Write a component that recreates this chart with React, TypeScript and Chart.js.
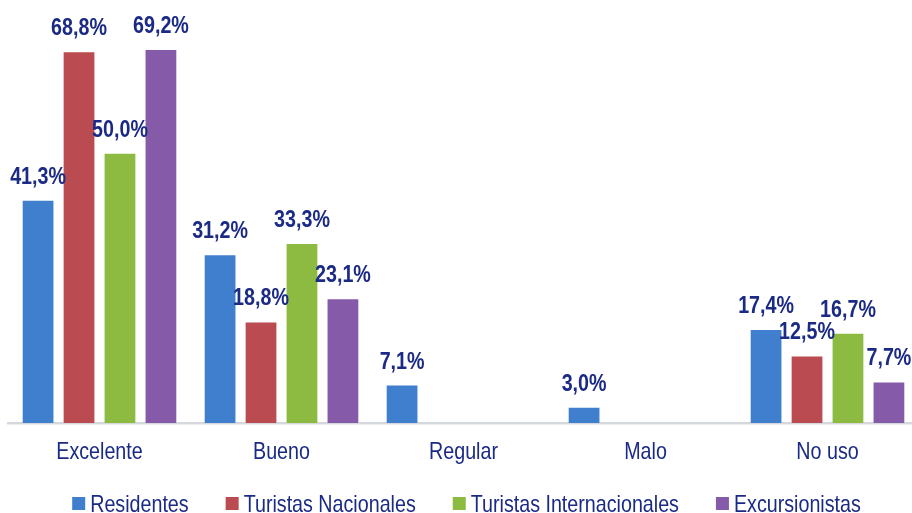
import React, { useEffect, useRef } from "react";
import { Chart, registerables } from "chart.js";

Chart.register(...registerables);

const categories = ["Excelente", "Bueno", "Regular", "Malo", "No uso"];
const seriesNames = ["Residentes", "Turistas Nacionales", "Turistas Internacionales", "Excursionistas"];
const residentes = [41.3, 31.2, 7.1, 3.0, 17.4];
const turistasNacionales = [68.8, 18.8, 0, 0, 12.5];
const turistasInternacionales = [50.0, 33.3, 0, 0, 16.7];
const excursionistas = [69.2, 23.1, 0, 0, 7.7];
const seriesColors = ["#3F7FCD", "#BA4B50", "#8DBB42", "#855AA8"];

const FONT = "'Liberation Sans', Arial, sans-serif";
const NAVY = "#1B2A85";
const NARROW = 0.82;

function narrowText(ctx: any, txt: string, x: number, y: number, align: string) {
  ctx.save();
  ctx.translate(x, y);
  ctx.scale(NARROW, 1);
  ctx.textAlign = align;
  ctx.textBaseline = "alphabetic";
  ctx.fillText(txt, 0, 0);
  ctx.restore();
}

const textPlugin = {
  id: "narrowTexts",
  afterDatasetsDraw(chart: any) {
    const ctx = chart.ctx;
    const area = chart.chartArea;
    ctx.save();
    // value labels
    ctx.font = `bold 24px ${FONT}`;
    ctx.fillStyle = NAVY;
    chart.data.datasets.forEach((ds: any, i: number) => {
      const meta = chart.getDatasetMeta(i);
      meta.data.forEach((bar: any, j: number) => {
        const v = ds.data[j];
        if (!v) return;
        const txt = v.toFixed(1).replace(".", ",") + "%";
        narrowText(ctx, txt, bar.x, bar.y - 16, "center");
      });
    });
    // category labels
    const xs = chart.scales.x;
    ctx.font = `24px ${FONT}`;
    chart.data.labels.forEach((lab: string, i: number) => {
      narrowText(ctx, lab, xs.getPixelForTick(i), area.bottom + 36, "center");
    });
    // legend
    const box = 13;
    const boxGap = 5;
    const itemGap = 37;
    const widths = chart.data.datasets.map((ds: any) => ctx.measureText(ds.label).width * NARROW);
    const total = widths.reduce((a: number, w: number) => a + box + boxGap + w, 0) + itemGap * (widths.length - 1);
    let x = (area.left + area.right) / 2 + 3 - total / 2;
    const base = area.bottom + 88.5;
    chart.data.datasets.forEach((ds: any, i: number) => {
      ctx.fillStyle = ds.backgroundColor;
      ctx.fillRect(x, base - 14.5, box, box);
      ctx.fillStyle = NAVY;
      narrowText(ctx, ds.label, x + box + boxGap, base, "left");
      x += box + boxGap + widths[i] + itemGap;
    });
    ctx.restore();
  },
};

export default function App() {
  const ref = useRef<HTMLCanvasElement | null>(null);
  useEffect(() => {
    if (!ref.current) return;
    const data = [residentes, turistasNacionales, turistasInternacionales, excursionistas];
    const chart = new Chart(ref.current, {
      type: "bar",
      data: {
        labels: categories,
        datasets: seriesNames.map((name, i) => ({
          label: name,
          data: data[i],
          backgroundColor: seriesColors[i],
          borderColor: "rgba(255,255,255,0.35)",
          borderWidth: 1,
          categoryPercentage: 0.9,
          barPercentage: 0.8,
        })),
      },
      options: {
        animation: false,
        responsive: false,
        maintainAspectRatio: false,
        layout: { padding: { left: 8.5, right: 1.5, top: 1.4, bottom: 90 } },
        plugins: {
          legend: { display: false },
          tooltip: { enabled: false },
        },
        scales: {
          x: {
            grid: { display: false, drawTicks: false },
            border: { display: true, color: "#D5D9DE", width: 2.5 },
            ticks: { display: false },
          },
          y: {
            display: false,
            min: 0,
            max: 78,
          },
        },
      },
      plugins: [textPlugin],
    });
    return () => chart.destroy();
  }, []);
  return (
    <div style={{ position: "fixed", left: 0, top: 0, width: 912, height: 513, overflow: "hidden", background: "#fff" }}>
      <canvas ref={ref} width={920} height={513} style={{ display: "block", width: 920, height: 513 }} />
    </div>
  );
}
